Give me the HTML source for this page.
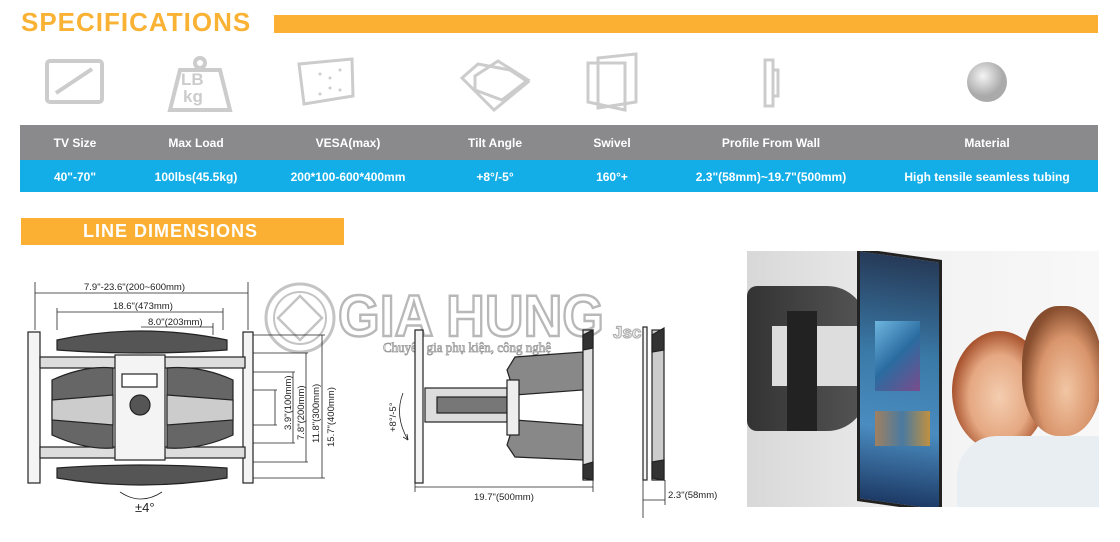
<!DOCTYPE html>
<html><head><meta charset="utf-8"><style>
*{margin:0;padding:0;box-sizing:border-box}
body{width:1120px;height:542px;background:#fff;position:relative;overflow:hidden;font-family:"Liberation Sans",Arial,sans-serif}
.abs{position:absolute}
.h1{left:21px;top:7px;font-size:26px;font-weight:bold;color:#f9b233;letter-spacing:1px}
.bar{left:274px;top:15px;width:824px;height:18px;background:#fbb033}
.row{left:20px;width:1078px;display:flex}
.row div{position:absolute;transform:translateX(-50%);font-size:12px;font-weight:bold;color:#fff;white-space:nowrap}
</style></head><body>
<div class="abs h1">SPECIFICATIONS</div>
<div class="abs bar"></div>
<svg class="abs" style="left:0;top:40px" width="1120" height="80">
<g fill="none" stroke="#ccc" stroke-width="4">
<rect x="47" y="21" width="55" height="41" rx="3"/>
<line x1="56" y1="53" x2="92" y2="29"/>
<path d="M170 70 L180 30 L220 30 L230 70 Z"/><circle cx="200" cy="23" r="5"/>
<path d="M299 24 L352 19 L353 56 L304 64 Z" stroke-width="3"/>
<path d="M462 38 L478 24 L510 30 L528 42 L494 70 Z" stroke-width="3"/>
<path d="M475 36 L498 21 L528 40 L502 60 L475 50 Z" stroke-width="3"/>
<path d="M588 23 L625 23 L625 70 L588 62 Z" stroke-width="3"/><path d="M598 18 L636 14 L636 62 L598 68Z" stroke-width="3"/>
<rect x="765" y="20" width="8" height="46" stroke-width="3"/><rect x="773" y="30" width="5" height="26" stroke-width="3"/>
</g>
<g fill="#ccc"><circle cx="320" cy="34" r="1.5"/><circle cx="330" cy="38" r="1.5"/><circle cx="340" cy="30" r="1.5"/><circle cx="330" cy="48" r="1.5"/><circle cx="340" cy="50" r="1.5"/><circle cx="320" cy="54" r="1.5"/></g>
<text x="181" y="45" font-size="17" font-weight="bold" fill="#ccc">LB</text><text x="183" y="62" font-size="17" font-weight="bold" fill="#ccc">kg</text>
<defs><radialGradient id="g" cx="40%" cy="35%"><stop offset="0" stop-color="#f4f4f4"/><stop offset="1" stop-color="#aaa"/></radialGradient></defs>
<circle cx="987" cy="42" r="20" fill="url(#g)"/>
</svg>
<div class="abs" style="left:20px;top:125px;width:1078px;height:35px;background:#8a8a8c"></div>
<div class="abs" style="left:20px;top:160px;width:1078px;height:32px;background:#13aee8"></div>
<div class="abs row" style="top:136px">
<div style="left:55px">TV Size</div><div style="left:176px">Max Load</div><div style="left:328px">VESA(max)</div><div style="left:475px">Tilt Angle</div><div style="left:592px">Swivel</div><div style="left:751px">Profile From Wall</div><div style="left:967px">Material</div></div>
<div class="abs row" style="top:170px">
<div style="left:55px">40"-70"</div><div style="left:176px">100lbs(45.5kg)</div><div style="left:328px">200*100-600*400mm</div><div style="left:475px">+8°/-5°</div><div style="left:592px">160°+</div><div style="left:751px">2.3"(58mm)~19.7"(500mm)</div><div style="left:967px">High tensile seamless tubing</div></div>
<div class="abs" style="left:21px;top:218px;width:323px;height:27px;background:#fbb033;color:#fff;font-weight:bold;font-size:18px;padding-left:62px;line-height:27px;letter-spacing:1px">LINE DIMENSIONS</div>

<svg class="abs" style="left:0;top:0" width="740" height="542" font-family="Liberation Sans,Arial,sans-serif">
<g fill="none" stroke="#c4c4c4" stroke-width="3"><circle cx="300" cy="318" r="34"/><circle cx="300" cy="318" r="26" stroke-width="2"/>
<path d="M300 296 L322 318 L300 340 L278 318Z" stroke-width="2.5"/></g>
<text x="338" y="336" font-size="58" font-weight="bold" font-family="Liberation Sans Narrow,Liberation Sans,sans-serif" textLength="266" lengthAdjust="spacingAndGlyphs" fill="#fff" stroke="#b8b8b8" stroke-width="2.5">GIA HUNG</text>
<text x="613" y="338" font-size="17" font-weight="bold" fill="#fff" stroke="#b0b0b0" stroke-width="1.2">Jsc</text>
<text x="383" y="352" font-size="14" font-family="Liberation Serif,serif" textLength="168" lengthAdjust="spacingAndGlyphs" fill="#fff" stroke="#999" stroke-width="0.8">Chuyên gia phụ kiện, công nghệ</text>

<g stroke="#222" stroke-width="0.8" fill="none">
<line x1="35" y1="293" x2="248" y2="293"/><line x1="35" y1="282" x2="35" y2="330"/><line x1="248" y1="282" x2="248" y2="330"/>
<line x1="57" y1="312" x2="223" y2="312"/><line x1="57" y1="308" x2="57" y2="330"/><line x1="223" y1="308" x2="223" y2="330"/>
<line x1="141" y1="327" x2="213" y2="327"/><line x1="213" y1="323" x2="213" y2="335"/>
<line x1="275" y1="390" x2="275" y2="425"/><line x1="293" y1="372" x2="293" y2="443"/><line x1="306" y1="353" x2="306" y2="462"/><line x1="322" y1="335" x2="322" y2="478"/>
<line x1="253" y1="335" x2="325" y2="335"/><line x1="253" y1="353" x2="308" y2="353"/><line x1="253" y1="372" x2="295" y2="372"/><line x1="253" y1="390" x2="277" y2="390"/>
<line x1="253" y1="425" x2="277" y2="425"/><line x1="253" y1="443" x2="295" y2="443"/><line x1="253" y1="462" x2="308" y2="462"/><line x1="253" y1="478" x2="325" y2="478"/>
<line x1="415" y1="487" x2="593" y2="487"/><line x1="415" y1="483" x2="415" y2="492"/><line x1="593" y1="480" x2="593" y2="492"/>
<line x1="643" y1="480" x2="643" y2="518"/><line x1="643" y1="500" x2="665" y2="500"/><line x1="665" y1="480" x2="665" y2="505"/>
<path d="M403 393 Q394 416 408 440"/><path d="M408 440 l-1 -6 M408 440 l-5 -3"/>
<path d="M120 492 Q141 506 162 492"/>
</g>
<g stroke="#222" stroke-width="1.2">
<rect x="28" y="332" width="12" height="151" fill="#f4f4f4"/><rect x="243" y="332" width="10" height="151" fill="#f4f4f4"/>
<path d="M57 340 Q140 322 227 340 L227 350 Q140 356 57 350Z" fill="#555"/>
<path d="M57 468 Q140 462 227 468 L227 478 Q140 492 57 478Z" fill="#555"/>
<rect x="40" y="357" width="205" height="11" fill="#ddd"/><rect x="40" y="447" width="205" height="11" fill="#ddd"/>
<path d="M52 380 Q85 365 113 368 L113 448 Q85 450 52 435Z" fill="#666"/><path d="M167 368 Q200 365 233 380 L233 435 Q200 450 167 448Z" fill="#666"/>
<path d="M52 400 L113 395 L113 425 L52 420Z" fill="#ccc"/><path d="M167 395 L233 400 L233 420 L167 425Z" fill="#ccc"/>
<rect x="115" y="355" width="50" height="105" fill="#f4f4f4"/>
<rect x="122" y="374" width="35" height="13" fill="#fff"/><circle cx="140" cy="405" r="10" fill="#555"/>
<rect x="415" y="330" width="8" height="153" fill="#f4f4f4"/>
<rect x="425" y="388" width="82" height="34" fill="#ddd"/><rect x="437" y="397" width="70" height="16" fill="#777"/>
<path d="M507 370 L515 357 L583 352 L583 390 L515 395Z" fill="#888"/>
<path d="M507 445 L515 420 L583 425 L583 460 L515 457Z" fill="#888"/>
<rect x="507" y="380" width="12" height="55" fill="#eee"/>
<rect x="583" y="330" width="10" height="150" fill="#ddd"/>
<path d="M583 335 L593 330 L593 348 L583 350Z" fill="#333"/><path d="M583 465 L593 462 L593 480 L583 478Z" fill="#333"/>
<rect x="643" y="327" width="4" height="153" fill="#f4f4f4"/><rect x="652" y="330" width="12" height="150" fill="#ccc"/>
<path d="M652 335 L664 328 L664 350 L652 352Z" fill="#333"/><path d="M652 462 L664 460 L664 480 L652 478Z" fill="#333"/>
</g>
<g font-size="9.5" fill="#222">
<text x="84" y="290">7.9"-23.6"(200~600mm)</text><text x="113" y="309">18.6"(473mm)</text><text x="148" y="325">8.0"(203mm)</text>
<text x="474" y="500">19.7"(500mm)</text><text x="668" y="498">2.3"(58mm)</text>
<text transform="translate(291,430) rotate(-90)">3.9"(100mm)</text><text transform="translate(304,440) rotate(-90)">7.8"(200mm)</text>
<text transform="translate(319,443) rotate(-90)">11.8"(300mm)</text><text transform="translate(334,447) rotate(-90)">15.7"(400mm)</text>
<text transform="translate(396,432) rotate(-90)">+8°/-5°</text>
<text x="135" y="512" font-size="13">±4°</text>
</g>
</svg>

<div class="abs" style="left:747px;top:251px;width:352px;height:256px;background:linear-gradient(90deg,#d8d8d8 0,#e6e6e6 30%,#f2f2f2 45%,#f8f8f8 100%);overflow:hidden">
<div class="abs" style="left:0;top:35px;width:120px;height:145px;background:linear-gradient(90deg,#333,#555);border-radius:10px 40px 40px 10px"></div>
<div class="abs" style="left:25px;top:75px;width:90px;height:60px;background:#ddd"></div>
<div class="abs" style="left:40px;top:60px;width:30px;height:120px;background:#222"></div>
<div class="abs" style="left:110px;top:3px;width:85px;height:253px;background:linear-gradient(180deg,#263a58,#3a7aa8 40%,#4a8cc0 70%,#1d3a66);transform:skewY(8deg);border:3px solid #222"></div>
<div class="abs" style="left:128px;top:70px;width:45px;height:70px;background:linear-gradient(135deg,#6fb6e0,#2a6ca0 50%,#7a4c8c)"></div>
<div class="abs" style="left:128px;top:160px;width:55px;height:35px;background:linear-gradient(90deg,#a08060,#4a7aa0,#c09040)"></div>
<div class="abs" style="left:205px;top:80px;width:95px;height:120px;border-radius:50%;background:radial-gradient(ellipse at 50% 55%,#f4cdb0 0,#e5a882 45%,#a95530 70%,#8a4424 100%)"></div>
<div class="abs" style="left:275px;top:55px;width:80px;height:130px;border-radius:45%;background:radial-gradient(ellipse at 55% 65%,#f2c6a4 0,#d9956c 45%,#8a5030 70%,#6b3a20 100%)"></div>
<div class="abs" style="left:210px;top:185px;width:142px;height:71px;background:#e9eef3;border-radius:40px 0 0 0"></div>
</div>
</body></html>
